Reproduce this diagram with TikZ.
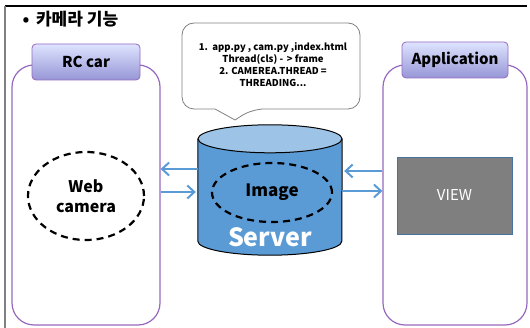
\documentclass[tikz,border=0pt]{standalone}
\usepackage{fontspec}
\setmainfont{Noto Sans CJK KR}
\usetikzlibrary{arrows.meta,shapes.geometric}

\definecolor{boxpurple}{RGB}{150,104,192}
\definecolor{labtop}{RGB}{222,228,255}
\definecolor{labbot}{RGB}{150,150,214}
\definecolor{srvblue}{RGB}{91,155,213}
\definecolor{srvtop}{RGB}{157,195,230}
\definecolor{viewgray}{RGB}{127,127,127}
\definecolor{viewedge}{RGB}{70,115,160}

\tikzset{
  sidebox/.style={draw=boxpurple, line width=1.2pt, rounded corners=22pt, inner sep=0pt},
  sidelabel/.style={draw=boxpurple, line width=0.8pt, rounded corners=4pt, top color=labtop, bottom color=labbot,
    minimum height=36pt, inner sep=0pt, font=\fontsize{15}{17}\selectfont\bfseries},
  dashring/.style={draw, ellipse, line width=2.2pt, dash pattern=on 7pt off 5pt, inner sep=0pt},
  flow/.style={draw=srvblue, line width=2pt, -{Straight Barb[length=7pt,width=13pt,line width=2pt]}},
}

\begin{document}
\begin{tikzpicture}[x=1pt,y=-1pt]
\useasboundingbox (0,0) rectangle (530,328);

% slide frame
\coordinate (fl) at (5,6);
\coordinate (fr) at (527,6);
\coordinate (fb) at (5,328);
\draw[line width=1.5pt] (fl) -- (fr);
\draw[gray, line width=1.5pt] (fl) -- (fb);

\node(title)[anchor=west, font=\fontsize{17}{19}\selectfont\bfseries] at (19,19) {•\ \,카메라 기능};

% side boxes
\node(rcbox)[sidebox, minimum width=148pt, minimum height=260pt] at (86,195) {};
\node(appbox)[sidebox, minimum width=144pt, minimum height=260pt] at (455,195) {};
\node(rclabel)[sidelabel, minimum width=108pt] at (86,62) {RC car};
\node(applabel)[sidelabel, minimum width=106pt] at (455,60) {Application};

\node(webcam)[dashring, minimum width=116pt, minimum height=88pt, align=center,
  font=\fontsize{16}{20}\selectfont\bfseries] at (86,196) {Web\\camera};

% speech bubble
\draw[draw=gray, line width=0.8pt, fill=white] (182,66) [rounded corners=12pt] |- (360,23) |- (252,109)
  [sharp corners] -- (235,120) -- (215,109) [rounded corners=12pt] -| (182,66) -- cycle;
\node(note)[align=center, font=\fontsize{9.5}{12}\selectfont\bfseries] at (273,65)
  {1.\ \ app.py , cam.py ,index.html\\Thread(cls) - \,> frame\\2. CAMEREA.THREAD =\\THREADING...};

% server cylinder
\node(server)[minimum width=144pt, minimum height=102pt, inner sep=0pt] at (270,190) {};
\fill[srvblue] (server.south) ellipse[x radius=72pt, y radius=14pt];
\fill[srvblue] (server.north west) rectangle (server.south east);
\draw[line width=1pt] (server.north west) -- (server.south west)
  arc[start angle=180, end angle=360, x radius=72pt, y radius=14pt] -- (server.north east);
\draw[line width=1pt, fill=srvtop] (server.north) ellipse[x radius=72pt, y radius=14pt];

\node(image)[dashring, minimum width=120pt, minimum height=59pt,
  font=\fontsize{17}{20}\selectfont\bfseries] at (272,192.5) {Image};
\node(srvname)[text=white, font=\fontsize{25}{28}\selectfont\bfseries] at (270,237) {Server};

% data flow
\draw[flow] (server.west |- 0,169) -- (rcbox.east |- 0,169);
\draw[flow, shorten >=2pt] (rcbox.east |- 0,192) -- (server.west |- 0,192);
\draw[flow, shorten >=2pt] (appbox.west |- 0,171) -- (server.east |- 0,171);
\draw[flow] (server.east |- 0,191) -- (appbox.west |- 0,191);

\node(view)[draw=viewedge, line width=0.8pt, fill=viewgray, text=white, minimum width=115pt, minimum height=77pt,
  font=\fontsize{15}{17}\selectfont] at (454.5,195.5) {VIEW};

\end{tikzpicture}
\end{document}
